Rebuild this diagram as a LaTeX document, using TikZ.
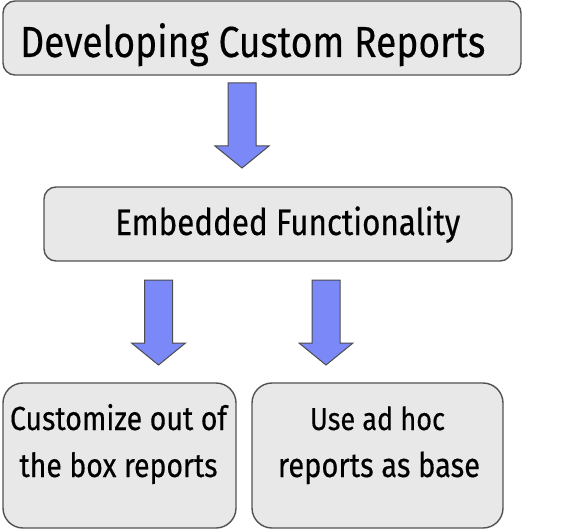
\documentclass[tikz,border=0pt]{standalone}
\usepackage{fontspec}
\usepackage{graphicx}
\setmainfont{Fira Sans}[FakeBold=0.4]
\begin{document}
\begin{tikzpicture}[x=1pt,y=-1pt,
  box/.style={draw=black!68, line width=1.4pt, fill=black!9, rounded corners=12pt, inner sep=0pt},
  bigbox/.style={box, rounded corners=20pt},
  lbl/.style={inner sep=0pt, text=black},
  barrow/.style={draw=black!70, line width=1pt, fill=arrowblue, line join=miter}]
\definecolor{arrowblue}{RGB}{122,136,248}
\newcommand{\fitw}[2]{\resizebox{#1pt}{!}{\scalebox{1}[1.17]{#2}}}
\useasboundingbox (0,0) rectangle (585,529);
% boxes
\node[box, minimum width=518pt, minimum height=74pt] (top) at (262,38) {};
\node[box, minimum width=468pt, minimum height=74pt] (mid) at (278,224) {};
\node[bigbox, minimum width=233pt, minimum height=145pt] (left) at (119.5,455.5) {};
\node[bigbox, minimum width=251pt, minimum height=145pt] (right) at (377.5,455.5) {};
% texts
\node[lbl, anchor=base west] (ttop) at (20,57) {\fitw{465}{Developing Custom Reports}};
\node[lbl, anchor=base west] (tmid) at (115,235) {\fitw{345}{Embedded Functionality}};
\node[lbl, anchor=base] (tl1) at (118.5,430) {\fitw{217}{Customize out of}};
\node[lbl, anchor=base] (tl2) at (118.5,477) {\fitw{198}{the box reports}};
\node[lbl, anchor=base] (tr1) at (377.5,430) {\fitw{135}{Use ad hoc}};
\node[lbl, anchor=base] (tr2) at (379,477) {\fitw{202}{reports as base}};
% block arrows
\newcommand{\blockarrow}[2]{%
  \draw[barrow] (#1-14,#2) -- (#1+14,#2) -- (#1+14,#2+63) -- (#1+27,#2+63)
    -- (#1,#2+85) -- (#1-27,#2+63) -- (#1-14,#2+63) -- cycle;}
\blockarrow{242}{83}
\blockarrow{158.5}{280}
\blockarrow{326}{280}
\end{tikzpicture}
\end{document}
